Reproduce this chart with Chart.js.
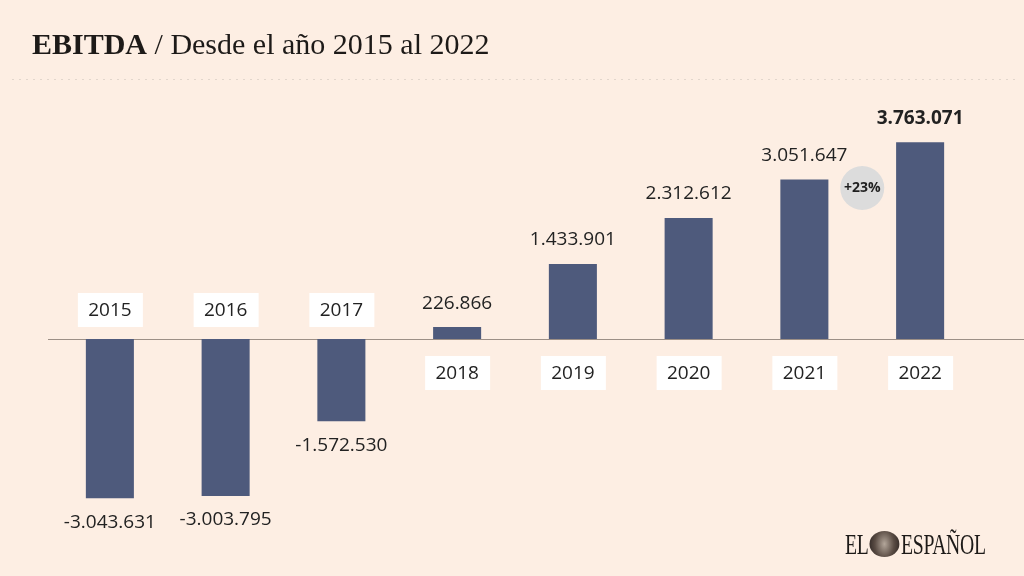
<!DOCTYPE html>
<html>
<head>
<meta charset="utf-8">
<script src="https://cdn.jsdelivr.net/npm/chart.js@4"></script>
<style>
  body { margin: 0; background: #fdeee3; }
  #wrap { position: relative; width: 1024px; height: 576px; overflow: hidden; }
  #title {
    position: absolute; left: 32px; top: 27px;
    font-family: "Liberation Serif", serif; font-size: 30px; color: #1d1a18;
    white-space: nowrap;
  }
  #title b { font-weight: bold; }
  #logo {
    position: absolute; left: 845px; top: 528px;
    font-family: "Liberation Serif", serif; font-size: 29px; color: #1d1a18;
    transform: scaleX(0.68); transform-origin: left top; white-space: nowrap;
    letter-spacing: -0.5px;
  }
  #logo .lion {
    display: inline-block; width: 44px; height: 26px; border-radius: 50%;
    background: radial-gradient(circle, #b3a69a 0, #5a4c44 55%, #2a2220 100%);
    vertical-align: -3px; margin: 0 2px;
  }
  canvas { position: absolute; left: 0; top: 0; }
</style>
</head>
<body>
<div id="wrap">
  <canvas id="chart" width="1024" height="576"></canvas>
  <div id="title"><b>EBITDA</b> / Desde el año 2015 al 2022</div>
  <div id="logo">EL<span class="lion"></span>ESPAÑOL</div>
</div>
<script>
const years = ['2015', '2016', '2017', '2018', '2019', '2020', '2021', '2022'];
const ebitda = [-3043631, -3003795, -1572530, 226866, 1433901, 2312612, 3051647, 3763071];
const growthLabel = '+23%';

const barColor = '#4e5a7c';

function formatNumber( n ) {
    const s = String(Math.abs(n)).replace(/\B(?=(\d{3})+(?!\d))/g, '.');
    return (n < 0 ? '-' : '') + s;
}

// draws the dotted rule, the zero line, the year boxes, the values and the badge
const decorations = {
    id: 'decorations',
    beforeDatasetsDraw( chart ) {
        const ctx = chart.ctx;
        const y0 = chart.scales.y.getPixelForValue(0);

        ctx.save();
        // dotted rule under the title
        ctx.fillStyle = '#e2d6cc';
        for( let x = 12; x < 1014; x += 7 ) {
            ctx.fillRect(x, 79, 2, 1);
        }
        // zero line
        ctx.strokeStyle = '#9c8f86';
        ctx.lineWidth = 1;
        ctx.beginPath();
        ctx.moveTo(48, Math.round(y0) + 0.5);
        ctx.lineTo(1024, Math.round(y0) + 0.5);
        ctx.stroke();
        ctx.restore();
    },
    afterDatasetsDraw( chart ) {
        const ctx = chart.ctx;
        const meta = chart.getDatasetMeta(0);
        const y0 = chart.scales.y.getPixelForValue(0);

        ctx.save();
        ctx.textAlign = 'center';
        ctx.textBaseline = 'middle';

        meta.data.forEach( (bar, i) => {
            const v = ebitda[i];
            const x = bar.x;

            // year box on the opposite side of the bar
            const boxY = v < 0 ? y0 - 29 : y0 + 34;
            ctx.fillStyle = '#ffffff';
            ctx.fillRect(x - 32, boxY - 17, 65, 34);
            ctx.fillStyle = '#222222';
            ctx.font = '19px "Open Sans", sans-serif';
            ctx.fillText(years[i], x, boxY + 1);

            // value label at the end of the bar
            const isLast = i === ebitda.length - 1;
            ctx.font = (isLast ? 'bold ' : '') + '19px "Open Sans", sans-serif';
            const ly = v < 0 ? bar.y + 24 : bar.y - 24;
            ctx.fillText(formatNumber(v), x, ly);
        });

        // growth badge between the last two bars
        const a = meta.data[meta.data.length - 2];
        const b = meta.data[meta.data.length - 1];
        const cx = (a.x + b.x) / 2;
        const cy = 188;
        ctx.fillStyle = '#dcdcdc';
        ctx.beginPath();
        ctx.arc(cx, cy, 22, 0, Math.PI * 2);
        ctx.fill();
        ctx.fillStyle = '#1f1f1f';
        ctx.font = 'bold 14px "Open Sans", sans-serif';
        ctx.fillText(growthLabel, cx, cy);
        ctx.restore();
    }
};

const ctx = document.getElementById('chart');
const chart = new Chart(ctx, {
    type: 'bar',
    data: {
        labels: years,
        datasets: [{
            data: ebitda,
            backgroundColor: barColor,
            borderWidth: 0,
            barPercentage: 1,
            categoryPercentage: 0.415
        }]
    },
    options: {
        responsive: false,
        animation: false,
        layout: {
            padding: { top: 120, bottom: 66, left: 52, right: 46 }
        },
        plugins: {
            legend: { display: false },
            tooltip: { enabled: false }
        },
        scales: {
            x: { display: false },
            y: { display: false, min: -3270000, max: 4187000 }
        }
    },
    plugins: [decorations]
});
</script>
</body>
</html>
